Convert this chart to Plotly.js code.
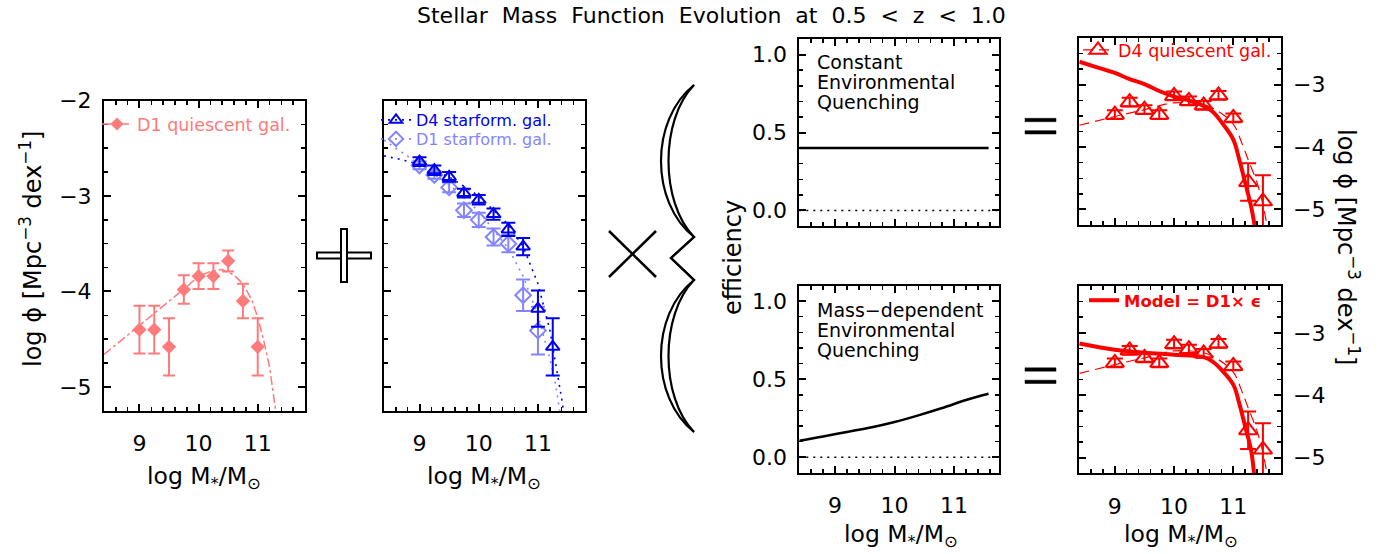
<!DOCTYPE html>
<html>
<head>
<meta charset="utf-8">
<script src="https://cdn.plot.ly/plotly-3.0.1.min.js"></script>
<style>html,body{margin:0;padding:0;background:#fff;}#chart{width:1386px;height:554px;}</style>
</head>
<body>
<div id="chart"></div>
<script>
// ---------------- DATA ----------------
// Panel 1: D1 quiescent galaxies
const d1QuiMass = [9.0, 9.25, 9.5, 9.75, 10.0, 10.25, 10.5, 10.75, 11.0];
const d1QuiPhi  = [-4.40, -4.40, -4.58, -3.98, -3.84, -3.84, -3.68, -4.10, -4.58];
const d1QuiErr  = [0.25, 0.25, 0.30, 0.15, 0.135, 0.135, 0.11, 0.18, 0.30];
const d1QuiFitMass = [8.4, 8.8, 9.2, 9.6, 9.8, 10.0, 10.2, 10.4, 10.6, 10.75, 10.9, 11.0, 11.1, 11.2, 11.3, 11.35];
const d1QuiFitPhi  = [-4.66, -4.46, -4.26, -4.06, -3.95, -3.84, -3.79, -3.77, -3.83, -3.92, -4.09, -4.27, -4.51, -4.79, -5.21, -5.45];

// Panel 2: star-forming galaxies
const d4SfMass = [9.0, 9.25, 9.5, 9.75, 10.0, 10.25, 10.5, 10.75, 11.0, 11.25];
const d4SfPhi  = [-2.64, -2.73, -2.80, -2.97, -3.04, -3.19, -3.35, -3.53, -4.18, -4.58];
const d4SfErr  = [0.045, 0.05, 0.05, 0.045, 0.05, 0.06, 0.07, 0.09, 0.19, 0.30];
const d1SfMass = [9.0, 9.25, 9.5, 9.75, 10.0, 10.25, 10.5, 10.75, 11.0];
const d1SfPhi  = [-2.68, -2.78, -2.91, -3.15, -3.25, -3.43, -3.50, -4.04, -4.41];
const d1SfErr  = [0.04, 0.04, 0.05, 0.07, 0.075, 0.09, 0.09, 0.165, 0.25];
const d4SfFitMass = [8.4, 8.7, 9.0, 9.5, 10.0, 10.5, 10.75, 11.0, 11.2, 11.3, 11.4, 11.45];
const d4SfFitPhi  = [-2.58, -2.62, -2.67, -2.80, -3.00, -3.30, -3.53, -3.92, -4.40, -4.74, -5.12, -5.33];
const d1SfFitMass = [8.4, 8.7, 9.0, 9.5, 10.0, 10.5, 10.75, 11.0, 11.2, 11.3, 11.38];
const d1SfFitPhi  = [-2.415, -2.54, -2.665, -2.88, -3.16, -3.55, -3.84, -4.25, -4.70, -4.98, -5.30];

// Panels 3-4: quenching efficiency
const effConstMass = [8.4, 11.58];
const effConst     = [0.4, 0.4];
const effDepMass   = [8.4, 8.8, 9.2, 9.6, 10.0, 10.4, 10.8, 11.2, 11.58];
const effDep       = [0.106, 0.133, 0.162, 0.19, 0.225, 0.268, 0.315, 0.366, 0.406];
const effZeroMass  = [8.4, 11.75];
const effZero      = [0, 0];

// Panels 5-6: D4 quiescent galaxies and models
const d4QuiMass = [9.0, 9.25, 9.5, 9.75, 10.0, 10.25, 10.5, 10.75, 11.0, 11.25, 11.5];
const d4QuiPhi  = [-3.48, -3.28, -3.40, -3.48, -3.18, -3.26, -3.33, -3.17, -3.53, -4.56, -4.87];
const d4QuiErr  = [0.07, 0.07, 0.07, 0.07, 0.07, 0.07, 0.07, 0.07, 0.07, 0.30, 0.42];
const d4QuiFitMass = [8.4, 9.0, 9.5, 10.0, 10.5, 10.75, 11.0, 11.15, 11.25, 11.4, 11.5, 11.57];
const d4QuiFitPhi  = [-3.65, -3.51, -3.40, -3.29, -3.32, -3.43, -3.63, -3.95, -4.20, -4.57, -4.92, -5.27];
const modelConstMass = [8.4, 8.7, 9.0, 9.25, 9.5, 9.75, 10.0, 10.25, 10.5, 10.65, 10.8, 11.0, 11.1, 11.2, 11.3, 11.36];
const modelConstPhi  = [-2.63, -2.72, -2.81, -2.91, -2.99, -3.10, -3.19, -3.25, -3.34, -3.43, -3.60, -3.88, -4.20, -4.57, -4.95, -5.26];
const modelDepMass = [8.4, 9.0, 9.5, 10.0, 10.5, 10.65, 10.8, 11.0, 11.1, 11.2, 11.3, 11.35];
const modelDepPhi  = [-3.17, -3.27, -3.32, -3.35, -3.39, -3.46, -3.59, -3.83, -4.13, -4.50, -4.88, -5.26];

// Tick labels
const massTicks = [9, 10, 11];
const massTickText = ['9', '10', '11'];
const phiTicks = [-5, -4, -3, -2];
const phiTickText = ['\u22125', '\u22124', '\u22123', '\u22122'];
const phiTicksR = [-5, -4, -3];
const phiTickTextR = ['\u22125', '\u22124', '\u22123'];
const effTicks = [0, 0.5, 1.0];
const effTickText = ['0.0', '0.5', '1.0'];

// ---------------- STYLE ----------------
const W = 1386, H = 554;
const FONT = 'DejaVu Sans';
const SALMON = '#ff7a7a', BLUE = '#0000f0', LBLUE = '#8484ff', RED = '#ff0000';
const px = v => v / W;
const py = v => 1 - v / H;

function xAx(l, r, range, showLabels, anchor) {
  return {
    domain: [px(l), px(r)], range: range, anchor: anchor,
    showline: true, linecolor: 'black', linewidth: 2, mirror: 'ticks',
    ticks: 'inside', ticklen: 7, tickwidth: 2, tickcolor: 'black',
    tickmode: 'array', tickvals: massTicks, ticktext: massTickText,
    showticklabels: showLabels, ticklabelstandoff: 12,
    tickfont: {family: FONT, size: 22, color: 'black'},
    showgrid: false, zeroline: false,
    minor: {ticks: 'inside', ticklen: 4, tickwidth: 1.5, tickcolor: 'black', dtick: 0.2, tick0: 9, showgrid: false}
  };
}
function yAx(t, b, range, vals, text, showLabels, anchor, side, mdt, mt0) {
  return {
    domain: [py(b), py(t)], range: range, anchor: anchor, side: side,
    showline: true, linecolor: 'black', linewidth: 2, mirror: 'ticks',
    ticks: 'inside', ticklen: 7, tickwidth: 2, tickcolor: 'black',
    tickmode: 'array', tickvals: vals, ticktext: text,
    showticklabels: showLabels, ticklabelstandoff: 6,
    tickfont: {family: FONT, size: 22, color: 'black'},
    showgrid: false, zeroline: false,
    minor: {ticks: 'inside', ticklen: 4, tickwidth: 1.5, tickcolor: 'black', dtick: mdt, tick0: mt0, showgrid: false}
  };
}

function errs(arr, color, w) {
  return {type: 'data', array: arr, visible: true, color: color, thickness: 2, width: w};
}

const DOTS = '2px,5px';
const DASH = '10px,6px';

const traces = [
  // Panel 1
  {x: d1QuiFitMass, y: d1QuiFitPhi, xaxis: 'x', yaxis: 'y', mode: 'lines',
   line: {color: SALMON, dash: 'dashdot', width: 1.5}, showlegend: false},
  {x: d1QuiMass, y: d1QuiPhi, xaxis: 'x', yaxis: 'y', mode: 'markers',
   marker: {symbol: 'diamond', size: 11, color: SALMON}, error_y: errs(d1QuiErr, SALMON, 6), showlegend: false},
  {x: [null], y: [null], xaxis: 'x', yaxis: 'y', mode: 'lines+markers', name: 'D1 quiescent gal.',
   line: {color: SALMON, dash: 'dashdot', width: 1.5}, marker: {symbol: 'diamond', size: 10, color: SALMON},
   legend: 'legend'},

  // Panel 2
  {x: d1SfFitMass, y: d1SfFitPhi, xaxis: 'x2', yaxis: 'y2', mode: 'lines',
   line: {color: LBLUE, dash: DOTS, width: 1.6}, showlegend: false},
  {x: d4SfFitMass, y: d4SfFitPhi, xaxis: 'x2', yaxis: 'y2', mode: 'lines',
   line: {color: BLUE, dash: DOTS, width: 1.6}, showlegend: false},
  {x: d1SfMass, y: d1SfPhi, xaxis: 'x2', yaxis: 'y2', mode: 'markers',
   marker: {symbol: 'diamond-open', size: 12, color: LBLUE, line: {width: 2}}, error_y: errs(d1SfErr, LBLUE, 7), showlegend: false},
  {x: d4SfMass, y: d4SfPhi, xaxis: 'x2', yaxis: 'y2', mode: 'markers',
   marker: {symbol: 'triangle-up-open', size: 12, color: BLUE, line: {width: 2}}, error_y: errs(d4SfErr, BLUE, 7), showlegend: false},
  {x: [null], y: [null], xaxis: 'x2', yaxis: 'y2', mode: 'lines+markers', name: 'D4 starform. gal.',
   line: {color: BLUE, dash: DOTS, width: 1.6}, marker: {symbol: 'triangle-up-open', size: 11, color: BLUE, line: {width: 2}},
   legend: 'legend2'},
  {x: [null], y: [null], xaxis: 'x2', yaxis: 'y2', mode: 'lines+markers', name: 'D1 starform. gal.',
   line: {color: LBLUE, dash: DOTS, width: 1.6}, marker: {symbol: 'diamond-open', size: 11, color: LBLUE, line: {width: 2}},
   legend: 'legend3'},

  // Panel 3
  {x: effZeroMass, y: effZero, xaxis: 'x3', yaxis: 'y3', mode: 'lines',
   line: {color: 'black', dash: DOTS, width: 1.5}, showlegend: false},
  {x: effConstMass, y: effConst, xaxis: 'x3', yaxis: 'y3', mode: 'lines',
   line: {color: 'black', width: 2.5}, showlegend: false},

  // Panel 4
  {x: effZeroMass, y: effZero, xaxis: 'x4', yaxis: 'y4', mode: 'lines',
   line: {color: 'black', dash: DOTS, width: 1.5}, showlegend: false},
  {x: effDepMass, y: effDep, xaxis: 'x4', yaxis: 'y4', mode: 'lines', line: {color: 'black', width: 2.5, shape: 'spline'},
   showlegend: false},

  // Panel 5
  {x: d4QuiFitMass, y: d4QuiFitPhi, xaxis: 'x5', yaxis: 'y5', mode: 'lines',
   line: {color: RED, dash: DASH, width: 1.2, shape: 'spline'}, showlegend: false},
  {x: d4QuiMass, y: d4QuiPhi, xaxis: 'x5', yaxis: 'y5', mode: 'markers',
   marker: {symbol: 'triangle-up-open', size: 16, color: RED, line: {width: 2}}, error_y: errs(d4QuiErr, RED, 8), showlegend: false},
  {x: modelConstMass, y: modelConstPhi, xaxis: 'x5', yaxis: 'y5', mode: 'lines',
   line: {color: RED, width: 4, shape: 'spline'}, showlegend: false},
  {x: [null], y: [null], xaxis: 'x5', yaxis: 'y5', mode: 'lines+markers', name: 'D4 quiescent gal.',
   line: {color: RED, dash: DASH, width: 1.2}, marker: {symbol: 'triangle-up-open', size: 15, color: RED, line: {width: 2}},
   legend: 'legend4'},

  // Panel 6
  {x: d4QuiFitMass, y: d4QuiFitPhi, xaxis: 'x6', yaxis: 'y6', mode: 'lines',
   line: {color: RED, dash: DASH, width: 1.2, shape: 'spline'}, showlegend: false},
  {x: d4QuiMass, y: d4QuiPhi, xaxis: 'x6', yaxis: 'y6', mode: 'markers',
   marker: {symbol: 'triangle-up-open', size: 16, color: RED, line: {width: 2}}, error_y: errs(d4QuiErr, RED, 8), showlegend: false},
  {x: modelDepMass, y: modelDepPhi, xaxis: 'x6', yaxis: 'y6', mode: 'lines',
   line: {color: RED, width: 4, shape: 'spline'}, showlegend: false},
  {x: [null], y: [null], xaxis: 'x6', yaxis: 'y6', mode: 'lines', name: 'Model = D1\u00d7 \u03f5',
   line: {color: RED, width: 4}, legend: 'legend5'}
];

function leg(x, y, color, bold, size) {
  return {x: px(x), y: py(y), xanchor: 'left', yanchor: 'top', bgcolor: 'rgba(0,0,0,0)', borderwidth: 0,
          font: {family: FONT, size: size, color: color, weight: bold ? 'bold' : 'normal'},
          itemwidth: 30, tracegroupgap: 0, itemclick: false, itemdoubleclick: false};
}

function ann(x, y, text, size, opts) {
  return Object.assign({x: px(x), y: py(y), xref: 'paper', yref: 'paper', text: text, showarrow: false,
    xanchor: 'center', yanchor: 'middle', font: {family: FONT, size: size, color: 'black'}}, opts || {});
}

const phiTitle = 'log \u03d5 [Mpc<sup>\u22123</sup> dex<sup>\u22121</sup>]';
const massTitle = 'log M<sub>*</sub>/M<sub>\u2299</sub>';
const titleText = 'Stellar Mass Function Evolution at 0.5 &lt; z &lt; 1.0'.replace(/ /g, '\u00a0\u00a0');

const annotations = [
  ann(711, 15, titleText, 22),
  ann(31, 249, phiTitle, 24, {textangle: -90}),
  ann(1348, 247, phiTitle, 24, {textangle: 90}),
  ann(733, 257, 'efficiency', 24, {textangle: -90}),
  ann(204, 477, massTitle, 23.5),
  ann(484, 477, massTitle, 23.5),
  ann(901, 535, massTitle, 23.5),
  ann(1181, 535, massTitle, 23.5),
  ann(815, 62, 'Constant', 19, {xanchor: 'left'}),
  ann(815, 82, 'Environmental', 19, {xanchor: 'left'}),
  ann(815, 102, 'Quenching', 19, {xanchor: 'left'}),
  ann(815, 310, 'Mass\u2212dependent', 19, {xanchor: 'left'}),
  ann(815, 330, 'Environmental', 19, {xanchor: 'left'}),
  ann(815, 350, 'Quenching', 19, {xanchor: 'left'})
];

function rect(x0, y0, x1, y1, fill, lw) {
  return {type: 'rect', xref: 'paper', yref: 'paper', x0: px(x0), x1: px(x1), y0: py(y1), y1: py(y0),
          fillcolor: fill, line: {color: 'black', width: lw}, layer: 'above'};
}
function seg(x0, y0, x1, y1, w) {
  return {type: 'line', xref: 'paper', yref: 'paper', x0: px(x0), y0: py(y0), x1: px(x1), y1: py(y1),
          line: {color: 'black', width: w}, layer: 'above'};
}
function pathPx(cmds, w) {
  let s = '';
  cmds.forEach(c => {
    s += c[0];
    for (let i = 1; i < c.length; i += 2) s += ' ' + px(c[i]).toFixed(5) + ',' + py(c[i + 1]).toFixed(5);
    s += ' ';
  });
  return {type: 'path', xref: 'paper', yref: 'paper', path: s, line: {color: 'black', width: w}, layer: 'above'};
}
function brace(cx, w) {
  return pathPx([
    ['M', 694, 85], ['C', cx, 120, cx, 202, 694, 237], ['L', 671, 258], ['L', 694, 280],
    ['C', cx, 315, cx, 397, 694, 432]
  ], w);
}

const shapes = [
  rect(317, 252.5, 371, 258.5, 'white', 2),
  rect(341, 229, 347, 282, 'white', 2),
  seg(609, 231, 656, 277, 2.5),
  seg(609, 277, 656, 231, 2.5),
  brace(650, 2.2), brace(660, 2.2),
  rect(1025, 118.3, 1056, 121.7, 'black', 0.5),
  rect(1025, 130.7, 1056, 134.0, 'black', 0.5),
  rect(1025, 367.8, 1056, 371.2, 'black', 0.5),
  rect(1025, 380.2, 1056, 383.5, 'black', 0.5)
];

const layout = {
  width: W, height: H, margin: {l: 0, r: 0, t: 0, b: 0},
  paper_bgcolor: 'white', plot_bgcolor: 'white',
  font: {family: FONT, color: 'black'},
  showlegend: true,
  xaxis:  xAx(104, 305, [8.4, 11.8], true, 'y'),
  yaxis:  yAx(100.5, 410.8, [-5.25, -2], phiTicks, phiTickText, true, 'x', 'left', 0.25, -2),
  xaxis2: xAx(384, 585.3, [8.4, 11.8], true, 'y2'),
  yaxis2: yAx(100.5, 410.8, [-5.25, -2], phiTicks, phiTickText, false, 'x2', 'left', 0.25, -2),
  xaxis3: xAx(799.3, 998.7, [8.4, 11.75], false, 'y3'),
  yaxis3: yAx(39, 226, [-0.1, 1.1], effTicks, effTickText, true, 'x3', 'left', 0.1, 0),
  xaxis4: xAx(799.3, 998.7, [8.4, 11.75], true, 'y4'),
  yaxis4: yAx(285.5, 472.8, [-0.1, 1.1], effTicks, effTickText, true, 'x4', 'left', 0.1, 0),
  xaxis5: xAx(1079.3, 1280.7, [8.4, 11.8], false, 'y5'),
  yaxis5: yAx(38, 225, [-5.25, -2.25], phiTicksR, phiTickTextR, true, 'x5', 'right', 0.25, -3),
  xaxis6: xAx(1079.3, 1280.7, [8.4, 11.8], true, 'y6'),
  yaxis6: yAx(286, 473.3, [-5.25, -2.25], phiTicksR, phiTickTextR, true, 'x6', 'right', 0.25, -3),
  legend:  leg(97, 106, SALMON, false, 17.5),
  legend2: leg(376, 103, BLUE, false, 16),
  legend3: leg(376, 122, LBLUE, false, 16),
  legend4: leg(1078, 32, RED, false, 17.5),
  legend5: leg(1084, 283, RED, true, 16.5)
};
layout.annotations = annotations;
layout.shapes = shapes;

Plotly.newPlot('chart', traces, layout, {staticPlot: true, displayModeBar: false});
</script>
</body>
</html>
